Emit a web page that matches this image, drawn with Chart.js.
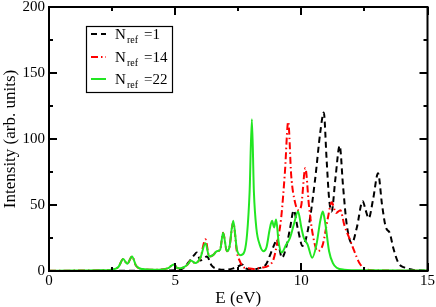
<!DOCTYPE html>
<html>
<head>
<meta charset="utf-8">
<script src="https://cdn.jsdelivr.net/npm/chart.js@4.4.0/dist/chart.umd.min.js"></script>
<style>
html,body{margin:0;padding:0;background:#fff;}
#wrap{width:436px;height:307px;position:relative;}
</style>
</head>
<body>
<div id="wrap"><canvas id="c" width="436" height="307"></canvas></div>
<script>
// Tick labels
const xTicks = [0, 5, 10, 15];
const yTicks = [0, 50, 100, 150, 200];
// Legend labels (N_ref values)
const nrefLabels = ['1', '14', '22'];

// N_ref = 1 (black dashed)
const e1 = [0, 2, 4, 5.0, 5.3, 5.55, 5.75, 5.86, 6.0, 6.1, 6.26, 6.45, 6.7, 7.0, 7.3, 7.55, 7.65, 7.8, 8.0, 8.3, 8.6, 8.8, 8.95, 9.03, 9.12, 9.23, 9.4, 9.55, 9.7, 9.85, 10.05, 10.3, 10.55, 10.75, 10.89, 11.0, 11.1, 11.2, 11.35, 11.52, 11.65, 11.8, 12.0, 12.2, 12.43, 12.55, 12.67, 12.85, 13.04, 13.2, 13.35, 13.5, 13.65, 13.85, 14.1, 14.4, 15];
const i1 = [0, 0.1, 0.2, 0.5, 2, 7, 12, 14, 8, 9, 11, 4, 1.5, 1, 2, 4, 5, 2, 1, 2, 5, 14, 21, 24, 18, 10, 18, 32, 46, 33, 19, 35, 70, 105, 120, 85, 55, 45, 70, 95, 65, 35, 21, 33, 53, 46, 40, 55, 74, 50, 33, 29, 17, 6, 2.5, 1, 0.3];

// N_ref = 14 (red dash-dot)
const e14 = [0, 1, 2, 2.5, 2.75, 2.94, 3.1, 3.29, 3.45, 3.7, 4.2, 4.7, 4.95, 5.1, 5.3, 5.5, 5.62, 5.8, 6.0, 6.2, 6.35, 6.5, 6.65, 6.78, 6.9, 7.05, 7.15, 7.3, 7.45, 7.55, 7.7, 7.9, 8.1, 8.4, 8.7, 8.9, 9.05, 9.2, 9.35, 9.48, 9.6, 9.75, 9.9, 10.0, 10.16, 10.3, 10.45, 10.65, 10.85, 11.05, 11.2, 11.38, 11.55, 11.7, 11.9, 12.1, 12.3, 12.5, 12.8, 15];
const i14 = [0.2, 0.3, 0.5, 1, 3, 9, 5.5, 11, 4, 1.5, 1, 2, 5, 2, 2.5, 5, 8, 6, 10, 24, 11, 12, 15, 16, 29, 15, 18, 37, 14, 8, 3, 2, 1.5, 2.5, 4, 9, 22, 40, 75, 113, 72, 52, 46, 50, 78, 50, 28, 15, 20, 40, 52, 44, 46, 35, 25, 15, 6, 2, 0.5, 0.2];

// N_ref = 22 (green solid)
const e22 = [0, 1, 2, 2.5, 2.75, 2.94, 3.1, 3.29, 3.45, 3.7, 4.2, 4.7, 4.95, 5.1, 5.3, 5.5, 5.62, 5.8, 6.0, 6.2, 6.35, 6.5, 6.65, 6.78, 6.9, 7.05, 7.15, 7.3, 7.45, 7.6, 7.75, 7.85, 7.95, 8.04, 8.12, 8.22, 8.35, 8.5, 8.62, 8.75, 8.84, 8.92, 9.0, 9.1, 9.22, 9.4, 9.55, 9.7, 9.87, 10.0, 10.1, 10.25, 10.43, 10.6, 10.75, 10.85, 10.95, 11.1, 11.25, 11.4, 11.7, 12.5, 15];
const i22 = [0.2, 0.3, 0.5, 1, 3, 9, 5.5, 11, 4, 1.5, 1, 2, 5, 2, 2.5, 5, 8, 6, 10, 21, 11, 12, 15, 16, 29, 15, 18, 38, 16, 12, 15, 28, 60, 115, 60, 32, 20, 15, 18, 32, 38, 33, 39, 22, 14, 20, 25, 35, 45, 33, 25, 20, 10, 20, 38, 45, 36, 15, 6, 2.5, 1, 0.5, 0.3];

const SERIF = '"Liberation Serif", "DejaVu Serif", serif';

function pts(xs, ys) { return xs.map((x, k) => ({ x: x, y: ys[k] })); }

const datasets = [
  { label: '1', data: pts(e1, i1), borderColor: '#000000', borderDash: [6, 4], order: 2 },
  { label: '14', data: pts(e14, i14), borderColor: '#ff0000', borderDash: [7, 3, 1.5, 3], order: 1 },
  { label: '22', data: pts(e22, i22), borderColor: '#22e622', borderDash: [], order: 0 }
].map(d => Object.assign(d, { borderWidth: 2, pointRadius: 0, fill: false, cubicInterpolationMode: 'monotone' }));

const framePlugin = {
  id: 'frame',
  afterDatasetsDraw(chart) {
    const { ctx, chartArea: a, scales } = chart;
    const xs = scales.x, ys = scales.y;
    ctx.save();
    ctx.strokeStyle = '#000';
    ctx.lineWidth = 2;
    ctx.setLineDash([]);
    ctx.strokeRect(a.left, a.top, a.right - a.left, a.bottom - a.top);
    ctx.beginPath();
    for (let v = 0; v <= 15.001; v += 2.5) {
      const px = Math.round(xs.getPixelForValue(v));
      const len = (Math.abs(v % 5) < 1e-6) ? 8 : 4;
      ctx.moveTo(px, a.bottom); ctx.lineTo(px, a.bottom - len);
      ctx.moveTo(px, a.top); ctx.lineTo(px, a.top + len);
    }
    for (let v = 0; v <= 200.001; v += 25) {
      const py = Math.round(ys.getPixelForValue(v));
      const len = (Math.abs(v % 50) < 1e-6) ? 8 : 4;
      ctx.moveTo(a.left, py); ctx.lineTo(a.left + len, py);
      ctx.moveTo(a.right, py); ctx.lineTo(a.right - len, py);
    }
    ctx.stroke();

    // Legend
    const bx = 86, by = 26, bw = 86, bh = 66;
    ctx.fillStyle = '#fff';
    ctx.fillRect(bx, by, bw, bh);
    ctx.lineWidth = 1.2;
    ctx.strokeRect(bx + 0.5, by + 0.5, bw, bh);
    const rows = [34, 57, 79];
    chart.data.datasets.forEach((d, k) => {
      const y = rows[k];
      ctx.strokeStyle = d.borderColor;
      ctx.lineWidth = 2;
      ctx.setLineDash(d.borderDash || []);
      ctx.beginPath();
      ctx.moveTo(91, y); ctx.lineTo(106, y);
      ctx.stroke();
      ctx.setLineDash([]);
      ctx.fillStyle = '#000';
      ctx.textBaseline = 'alphabetic';
      ctx.textAlign = 'left';
      ctx.font = '15px ' + SERIF;
      ctx.fillText('N', 115, y + 5);
      ctx.font = '10px ' + SERIF;
      ctx.fillText('ref', 127, y + 9);
      ctx.font = '15px ' + SERIF;
      ctx.fillText('=' + nrefLabels[k], 144, y + 5);
    });
    ctx.restore();
  }
};

new Chart(document.getElementById('c'), {
  type: 'line',
  data: { datasets: datasets },
  options: {
    responsive: false,
    animation: false,
    parsing: true,
    layout: { padding: { left: 0, top: 7, right: 8.5, bottom: 0 } },
    plugins: { legend: { display: false }, tooltip: { enabled: false } },
    scales: {
      x: {
        type: 'linear', min: 0, max: 15,
        afterBuildTicks(s) { s.ticks = xTicks.map(v => ({ value: v })); },
        ticks: { color: '#000', font: { family: SERIF, size: 15 }, padding: 1, maxRotation: 0, autoSkip: false },
        grid: { display: false, drawTicks: false },
        border: { display: false },
        title: { display: true, text: 'E (eV)', color: '#000', font: { family: SERIF, size: 17, lineHeight: 1 }, padding: 0 },
        afterFit(s) { s.height = 36; s.paddingLeft = 0; s.paddingRight = 0; }
      },
      y: {
        type: 'linear', min: 0, max: 200,
        afterBuildTicks(s) { s.ticks = yTicks.map(v => ({ value: v })); },
        ticks: { color: '#000', font: { family: SERIF, size: 15 }, padding: 4, autoSkip: false },
        grid: { display: false, drawTicks: false },
        border: { display: false },
        title: { display: true, text: 'Intensity (arb. units)', color: '#000', font: { family: SERIF, size: 17 }, padding: 0 },
        afterFit(s) { s.width = 49; s.paddingTop = 0; s.paddingBottom = 0; }
      }
    }
  },
  plugins: [framePlugin]
});
</script>
</body>
</html>
